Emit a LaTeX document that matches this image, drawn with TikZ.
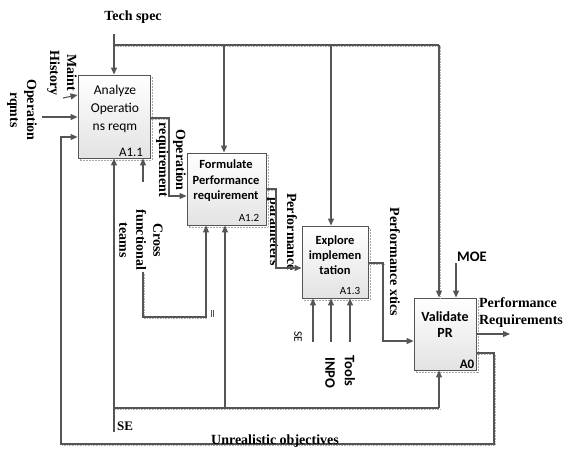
\documentclass[tikz,border=0pt]{standalone}
\usepackage{fontspec}
\setmainfont{Liberation Serif}
\newfontfamily\calib{Carlito}
\usetikzlibrary{arrows.meta,shadows}
\definecolor{linec}{RGB}{85,85,85}
\begin{document}
\begin{tikzpicture}[x=1pt,y=-1pt,
  lab/.style={font=\fontsize{14}{17}\selectfont\bfseries, align=center, inner sep=0, text=black},
  rlab/.style={lab, rotate=-90},
  slab/.style={font=\calib\fontsize{14.5}{17}\selectfont\bfseries, align=center, inner sep=0},
  box/.style={draw=linec, line width=0.9pt, top color=white, bottom color=gray!22, inner sep=0,
     general shadow={shadow xshift=1.8pt, shadow yshift=-1.8pt, draw=gray!70, densely dotted, line width=0.5pt}},
  btext/.style={font=\calib\fontsize{12.5}{15.5}\selectfont\bfseries, align=center, inner sep=0},
  bid/.style={font=\calib\fontsize{11}{13}\selectfont, inner sep=0},
  cn/.style={draw=linec, line width=1.1pt},
  arr/.style={cn, -{Triangle[length=7pt,width=6pt]}},
  sh/.style={draw=gray!60, densely dotted, line width=0.6pt, transform canvas={shift={(1pt,-1.6pt)}}}
]
\useasboundingbox (0,0) rectangle (568,450);

% boxes
\node[box, minimum width=72pt, minimum height=83pt] (a11) at (114,116.5) {};
\node[box, minimum width=79pt, minimum height=72pt] (a12) at (226.5,189) {};
\node[box, minimum width=66pt, minimum height=72pt] (a13) at (335,262) {};
\node[box, minimum width=62pt, minimum height=72pt] (a0) at (445,334) {};

% box texts
\node[btext, font=\calib\fontsize{13.5}{18}\selectfont] (t11) at (115,109) {Analyze\\Operatio\\ns reqm};
\node[bid, font=\calib\fontsize{13}{15}\selectfont] (i11) at (131,152) {A1.1};
\node[btext] (t12) at (226,181) {Formulate\\Performance\\requirement};
\node[bid] (i12) at (249,218) {A1.2};
\node[btext, font=\calib\fontsize{12.5}{15}\selectfont\bfseries] (t13) at (335,255) {Explore\\implemen\\tation};
\node[bid] (i13) at (350,291) {A1.3};
\node[btext, font=\calib\fontsize{14}{16}\selectfont\bfseries] (t0) at (445,325) {Validate\\PR};
\node[bid, font=\calib\fontsize{13}{15}\selectfont\bfseries] (i0) at (467,364) {A0};

% labels
\node[lab] (lts) at (133,17) {Tech spec};
\node[rlab] (lmh) at (62,73) {Maint\\History};
\node[rlab] (lor) at (22,110) {Operation\\rqmts};
\node[rlab] (lorq) at (171,160) {Operation\\requirement};
\node[rlab] (lcf) at (141,240) {Cross\\functional\\teams};
\node[rlab] (lpp) at (282,232) {Performance\\parameters};
\node[rlab] (lpx) at (395,262) {Performance xtics};
\node[lab, align=left] (lpr) at (521,313) {Performance\\Requirements};
\node[slab] (lmoe) at (472,257) {MOE};
\node[font=\calib\fontsize{11.5}{13}\selectfont, inner sep=0, rotate=-90] (lse2) at (298,337) {SE};
\node[slab, rotate=-90] (linpo) at (330,373) {INPO};
\node[slab, rotate=-90] (ltools) at (350,371) {Tools};
\node[lab, font=\fontsize{13}{15}\selectfont\bfseries] (lse) at (125,426) {SE};

% coordinates
\coordinate (ts) at (114,34);
\coordinate (cTL) at (114,45);
\coordinate (c2) at (224,45);
\coordinate (c3) at (331,45);
\coordinate (cTR) at (439,45);
\coordinate (mh) at (63,98);
\coordinate (orq) at (42,117);
\coordinate (o1) at (169,118);
\coordinate (o1b) at (169,196);
\coordinate (o2) at (276,189);
\coordinate (o2b) at (276,268);
\coordinate (o3) at (383,263);
\coordinate (o3b) at (383,341);
\coordinate (po) at (510,334);
\coordinate (moe) at (456,263);
\coordinate (f1) at (494,353);
\coordinate (f2) at (494,444);
\coordinate (f3) at (61,444);
\coordinate (f4) at (61,137);
\coordinate (m1) at (114,432);
\coordinate (s1) at (114,408);
\coordinate (s2) at (439,408);
\coordinate (m2) at (225,408);
\coordinate (cf1) at (143,182);
\coordinate (cf2) at (143,272);
\coordinate (cf3) at (143,317);
\coordinate (cf4) at (206,317);
\coordinate (e1) at (313,342);
\coordinate (e2) at (331,342);
\coordinate (e3) at (350,342);

% dotted shadows of lines
\draw[sh] (cTL) -- (cTR) -- (cTR |- a0.north);
\draw[sh] (s1) -- (s2);
\draw[sh] (a0.east |- f1) -- (f1) -- (f2) -- (f3);
\draw[sh] (cf2) -- (cf3) -- (cf4);
\draw[sh] (a11.east |- o1) -- (o1);
\draw[sh] (a12.east |- o2) -- (o2);
\draw[sh] (a13.east |- o3) -- (o3);

% connectors
\draw[arr] (ts) -- (ts |- a11.north);
\draw[cn] (cTL) -- (cTR);
\draw[arr] (c2) -- (c2 |- a12.north);
\draw[arr] (c3) -- (c3 |- a13.north);
\draw[arr] (cTR) -- (cTR |- a0.north);
\draw[arr] (mh) -- ([yshift=21.5pt]a11.west);
\draw[arr] (orq) -- (orq -| a11.west);
\draw[arr] (a11.east |- o1) -- (o1) -- (o1b) -- (o1b -| a12.west);
\draw[arr] (a12.east |- o2) -- (o2) -- (o2b) -- (o2b -| a13.west);
\draw[arr] (a13.east |- o3) -- (o3) -- (o3b) -- (o3b -| a0.west);
\draw[arr] (a0.east |- po) -- (po);
\draw[arr] (moe) -- (moe |- a0.north);
\draw[arr] (a0.east |- f1) -- (f1) -- (f2) -- (f3) -- (f4) -- (f4 -| a11.west);
\draw[arr] (m1) -- (m1 |- a11.south);
\draw[cn] (s1) -- (s2);
\draw[arr] (s2) -- (s2 |- a0.south);
\draw[arr] (m2) -- (m2 |- a12.south);
\draw[arr] (cf1) -- (cf1 |- a11.south);
\draw[arr] (cf2) -- (cf3) -- (cf4) -- (cf4 |- a12.south);
\draw[arr] (e1) -- (e1 |- a13.south);
\draw[arr] (e2) -- (e2 |- a13.south);
\draw[arr] (e3) -- (e3 |- a13.south);

% small mark
\draw[linec, line width=0.5pt] (211,310) -- (211,317) (213.5,310) -- (213.5,317);

% text over bottom line
\node[lab] (luo) at (275,441) {Unrealistic objectives};
\end{tikzpicture}
\end{document}
